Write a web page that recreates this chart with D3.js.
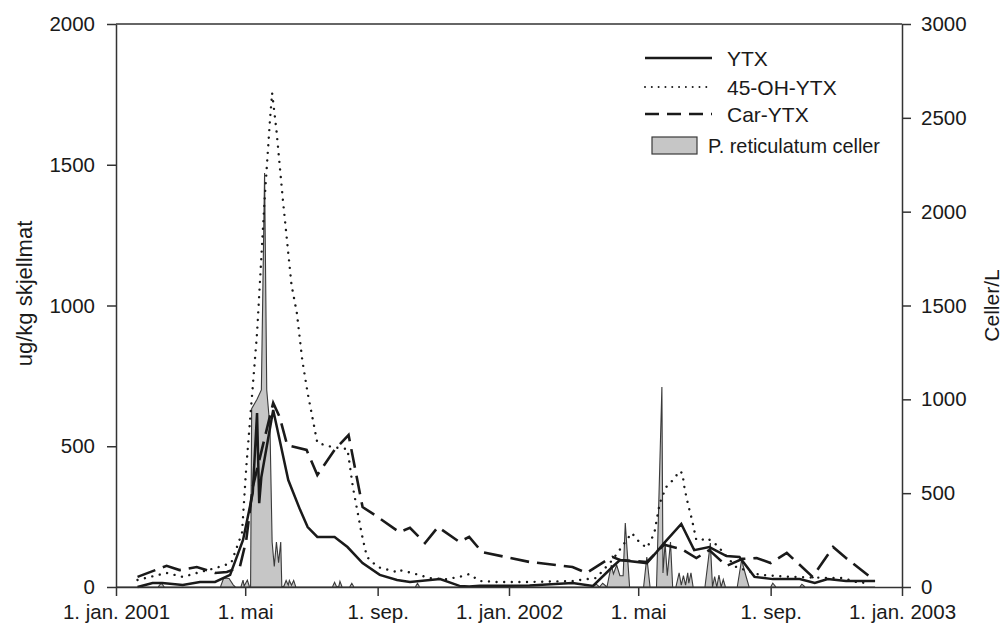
<!DOCTYPE html>
<html><head><meta charset="utf-8">
<script src="https://cdn.jsdelivr.net/npm/d3@7"></script>
<style>
body{margin:0;background:#fff}
svg{display:block}
text{font-family:"Liberation Sans",Arial,sans-serif;fill:#1a1a1a}
</style>
</head><body>
<svg id="chart" width="1007" height="625"></svg>
<script>
// ---------- data ----------
const xTickDates  = ["2001-01-01","2001-05-01","2001-09-01","2002-01-01","2002-05-01","2002-09-01","2003-01-01"];
const xTickLabels = ["1. jan. 2001","1. mai","1. sep.","1. jan. 2002","1. mai","1. sep.","1. jan. 2003"];
const leftTicks  = [0,500,1000,1500,2000];
const rightTicks = [0,500,1000,1500,2000,2500,3000];

const ytxDates = ["2001-01-21","2001-02-04","2001-02-13","2001-03-04","2001-03-20","2001-04-03","2001-04-17","2001-04-29","2001-05-08","2001-05-12","2001-05-14","2001-05-16","2001-05-27","2001-06-02","2001-06-10","2001-06-21","2001-06-28","2001-07-07","2001-07-23","2001-08-04","2001-08-18","2001-09-03","2001-09-19","2001-10-01","2001-10-29","2001-11-16","2001-11-25","2001-12-05","2002-01-20","2002-03-01","2002-03-20","2002-04-07","2002-04-14","2002-05-09","2002-05-18","2002-05-25","2002-06-10","2002-06-22","2002-07-06","2002-07-22","2002-08-03","2002-08-17","2002-09-03","2002-09-28","2002-10-12","2002-10-24","2002-11-10","2002-12-07"];
const ytxValues = [0,14,14,7,18,18,43,167,334,618,298,391,629,522,380,274,213,178,178,142,85,43,25,18,28,4,2,4,5,14,4,71,96,85,124,156,224,131,142,110,107,36,28,28,14,28,21,21];

const ohDates = ["2001-01-21","2001-02-17","2001-03-04","2001-03-20","2001-04-03","2001-04-18","2001-04-28","2001-05-02","2001-05-07","2001-05-12","2001-05-19","2001-05-24","2001-05-26","2001-05-30","2001-06-05","2001-06-13","2001-06-18","2001-06-23","2001-06-28","2001-07-07","2001-07-21","2001-08-04","2001-08-09","2001-08-17","2001-08-22","2001-09-01","2001-09-19","2001-09-21","2001-10-03","2001-10-19","2001-11-04","2001-11-16","2001-11-25","2001-12-05","2001-12-20","2002-01-20","2002-03-01","2002-03-08","2002-03-23","2002-04-07","2002-04-25","2002-05-02","2002-05-09","2002-05-13","2002-05-16","2002-05-21","2002-05-27","2002-06-04","2002-06-08","2002-06-11","2002-06-13","2002-06-16","2002-06-20","2002-06-24","2002-06-29","2002-07-04","2002-07-13","2002-07-25","2002-07-31","2002-08-22","2002-09-19","2002-10-26","2002-11-07","2002-11-23","2002-12-02"];
const ohValues = [25,50,36,53,67,85,192,426,664,902,1375,1659,1755,1623,1375,1073,973,806,689,512,497,490,355,192,107,71,53,60,50,32,28,36,46,21,18,18,21,25,32,96,192,160,139,167,192,298,355,387,412,405,352,298,238,167,167,174,149,96,71,43,36,32,32,14,18];

const carDates = ["2001-01-21","2001-02-17","2001-03-01","2001-03-17","2001-04-03","2001-04-14","2001-04-26","2001-05-02","2001-05-08","2001-05-27","2001-06-02","2001-06-09","2001-06-27","2001-07-07","2001-07-23","2001-08-05","2001-08-18","2001-09-01","2001-09-21","2001-10-01","2001-10-15","2001-10-27","2001-11-16","2001-11-25","2001-12-07","2002-01-20","2002-03-01","2002-03-14","2002-04-02","2002-04-07","2002-04-14","2002-05-09","2002-05-25","2002-06-10","2002-06-24","2002-07-06","2002-07-22","2002-08-06","2002-08-19","2002-09-01","2002-09-16","2002-10-10","2002-10-29","2002-11-10","2002-12-05"];
const carValues = [36,75,60,71,50,53,71,167,355,654,604,504,487,398,487,540,284,249,195,210,156,213,160,178,124,89,71,50,96,107,96,89,150,135,103,131,75,100,103,85,121,36,142,103,28];

const cellDates = ["2001-01-01","2001-02-09","2001-02-12","2001-02-15","2001-04-08","2001-04-11","2001-04-16","2001-04-20","2001-04-22","2001-04-27","2001-04-29","2001-04-30","2001-05-03","2001-05-05","2001-05-06","2001-05-07","2001-05-12","2001-05-16","2001-05-19","2001-05-21","2001-05-24","2001-05-26","2001-05-28","2001-05-30","2001-06-01","2001-06-03","2001-06-04","2001-06-06","2001-06-08","2001-06-10","2001-06-11","2001-06-13","2001-06-15","2001-06-17","2001-07-21","2001-07-23","2001-07-25","2001-07-27","2001-07-28","2001-07-30","2001-08-06","2001-08-08","2001-08-10","2001-10-06","2001-10-08","2001-10-10","2002-03-19","2002-03-23","2002-03-26","2002-03-29","2002-04-02","2002-04-06","2002-04-08","2002-04-11","2002-04-14","2002-04-17","2002-04-19","2002-04-23","2002-05-06","2002-05-09","2002-05-12","2002-05-18","2002-05-23","2002-05-24","2002-05-26","2002-05-28","2002-05-31","2002-06-02","2002-06-05","2002-06-08","2002-06-10","2002-06-12","2002-06-14","2002-06-16","2002-06-17","2002-06-19","2002-06-21","2002-07-02","2002-07-07","2002-07-09","2002-07-11","2002-07-13","2002-07-15","2002-07-17","2002-07-19","2002-07-21","2002-08-01","2002-08-05","2002-08-09","2002-08-12","2002-09-01","2002-09-03","2002-09-06","2002-09-28","2002-09-30","2002-10-03","2002-12-07"];
const cellValues = [0,0,20,0,0,48,45,10,0,0,37,5,37,0,0,950,1000,1050,2206,1050,850,240,110,240,130,240,0,5,35,10,35,10,35,0,0,25,0,5,30,0,0,20,0,0,20,0,0,15,0,20,0,117,70,117,60,60,341,0,0,160,0,0,1066,75,234,60,240,0,0,75,10,60,10,75,20,75,0,0,234,0,55,0,64,0,40,0,0,144,60,0,0,20,0,0,15,0,0];

const seriesNames = ["YTX","45-OH-YTX","Car-YTX","P. reticulatum celler"];
const leftTitle = "ug/kg skjellmat";
const rightTitle = "Celler/L";

// ---------- drawing ----------
const parse = d3.utcParse("%Y-%m-%d");
const svg = d3.select("#chart");
const M = {l:116, r:902, t:24, b:587};
const x = d3.scaleUtc().domain([parse("2001-01-01"), parse("2003-01-01")]).range([M.l, M.r]);
const yL = d3.scaleLinear().domain([0,2000]).range([M.b, M.t]);
const yR = d3.scaleLinear().domain([0,3000]).range([M.b, M.t]);
const ink = "#1a1a1a", axisCol = "#333";

const zip = (ds, vs) => ds.map((d,i)=>({d:parse(d), v:vs[i]}));

// cells area
const cells = zip(cellDates, cellValues);
svg.append("path").datum(cells)
  .attr("d", d3.area().x(p=>x(p.d)).y0(yR(0)).y1(p=>yR(p.v)))
  .attr("fill","#c6c6c6").attr("stroke","#3a3a3a").attr("stroke-width",1.1).attr("stroke-linejoin","miter");

const line = d3.line().x(p=>x(p.d)).y(p=>yL(p.v));
svg.append("path").datum(zip(carDates, carValues)).attr("d", line)
  .attr("fill","none").attr("stroke",ink).attr("stroke-width",2.6).attr("stroke-dasharray","19,8");
svg.append("path").datum(zip(ohDates, ohValues)).attr("d", line)
  .attr("fill","none").attr("stroke",ink).attr("stroke-width",2.4).attr("stroke-linecap","round").attr("stroke-dasharray","0.01,7.6");
svg.append("path").datum(zip(ytxDates, ytxValues)).attr("d", line)
  .attr("fill","none").attr("stroke",ink).attr("stroke-width",2.5).attr("stroke-linejoin","miter");

// axes
function styleAxis(g){
  g.selectAll("path,line").attr("stroke",axisCol).attr("stroke-width",1.5);
  g.selectAll("text").attr("font-size","20.5px").attr("fill",ink).attr("font-family",'"Liberation Sans",Arial,sans-serif');
}
const fmt = d3.format("d");
svg.append("g").attr("transform",`translate(${M.l},0)`)
  .call(d3.axisLeft(yL).tickValues(leftTicks).tickFormat(fmt).tickSize(9).tickSizeOuter(0).tickPadding(12))
  .call(styleAxis);
svg.append("g").attr("transform",`translate(${M.r},0)`)
  .call(d3.axisRight(yR).tickValues(rightTicks).tickFormat(fmt).tickSize(9).tickSizeOuter(0).tickPadding(10))
  .call(styleAxis);
svg.append("g").attr("transform",`translate(0,${M.b})`)
  .call(d3.axisBottom(x).tickValues(xTickDates.map(parse)).tickFormat((d,i)=>xTickLabels[i]).tickSize(9).tickSizeOuter(0).tickPadding(8))
  .call(styleAxis);
// top frame
svg.append("line").attr("x1",x.range()[0]).attr("x2",x.range()[1]).attr("y1",yL(2000)).attr("y2",yL(2000))
  .attr("stroke",axisCol).attr("stroke-width",1.5);

// axis titles
svg.append("text").attr("transform",`translate(32,${(M.t+M.b)/2 - 12}) rotate(-90)`)
  .attr("text-anchor","middle").attr("font-size","22px").text(leftTitle);
svg.append("text").attr("transform",`translate(999,${(M.t+M.b)/2}) rotate(-90)`)
  .attr("text-anchor","middle").attr("font-size","21px").text(rightTitle);

// legend
const lg = svg.append("g");
const lx0 = 645, lx1 = 712, tx = 727;
const rows = [58, 87, 114];
const styles = [
  {w:2.5, dash:null, cap:"butt"},
  {w:2.0, dash:"0.01,6.8", cap:"round"},
  {w:2.6, dash:"14,8", cap:"butt"}
];
styles.forEach((s,i)=>{
  const l = lg.append("line").attr("x1",lx0).attr("x2",lx1).attr("y1",rows[i]).attr("y2",rows[i])
    .attr("stroke",ink).attr("stroke-width",s.w).attr("stroke-linecap",s.cap);
  if (s.dash) l.attr("stroke-dasharray",s.dash);
  lg.append("text").attr("x",tx).attr("y",rows[i]).attr("dy","0.36em").attr("font-size","21px").text(seriesNames[i]);
});
lg.append("rect").attr("x",652).attr("y",137).attr("width",45).attr("height",17)
  .attr("fill","#c6c6c6").attr("stroke","#3a3a3a").attr("stroke-width",1.2);
lg.append("text").attr("x",708).attr("y",145.5).attr("dy","0.36em").attr("font-size","21px")
  .attr("textLength",172).attr("lengthAdjust","spacingAndGlyphs").text(seriesNames[3]);
</script>
</body></html>
